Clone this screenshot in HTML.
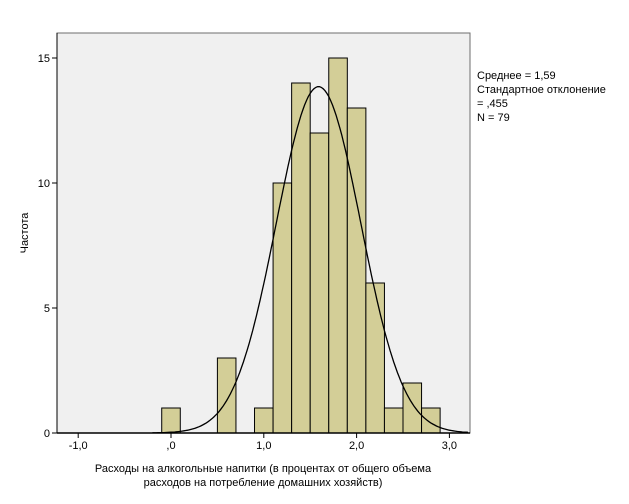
<!DOCTYPE html>
<html><head><meta charset="utf-8"><style>
body{margin:0;background:#fff;}
svg{display:block;font-family:"Liberation Sans",sans-serif;}
</style></head><body>
<svg width="629" height="504">
<rect x="57" y="33" width="413" height="400" fill="#f0f0f0" stroke="#6e6e6e" stroke-width="1"/>
<g id="bars"></g>
<path id="curve" fill="none" stroke="#000" stroke-width="1.3"/>
<line x1="57" y1="433" x2="470" y2="433" stroke="#000" stroke-width="1.5"/>
<line x1="57" y1="33" x2="57" y2="433" stroke="#000" stroke-width="1"/>
<g id="xt"></g>
<g id="yt"></g>
<text x="28" y="233" font-size="11" text-anchor="middle" transform="rotate(-90 28 233)">Частота</text>
<text x="263" y="472" font-size="11" text-anchor="middle">Расходы на алкогольные напитки (в процентах от общего объема</text>
<text x="263" y="486" font-size="11" text-anchor="middle">расходов на потребление домашних хозяйств)</text>
<g font-size="11">
<text x="477" y="79">Среднее = 1,59</text>
<text x="477" y="93">Стандартное отклонение</text>
<text x="477" y="107">= ,455</text>
<text x="477" y="121">N = 79</text>
</g>
</svg>
<script>
const binStarts=[-0.1,0.5,0.9,1.1,1.3,1.5,1.7,1.9,2.1,2.3,2.5,2.7];
const counts=[1,3,1,10,14,12,15,13,6,1,2,1];
const binWidth=0.2;
const mean=1.59, sd=0.455, n=79;
const xTicks=[-1,0,1,2,3];
const xTickLabels=["-1,0",",0","1,0","2,0","3,0"];
const yTicks=[0,5,10,15];
const NS="http://www.w3.org/2000/svg";
function X(v){return 171+v*92.8;}
function Y(v){return 433-v*25;}
const bars=document.getElementById('bars');
binStarts.forEach((b,i)=>{
 const r=document.createElementNS(NS,'rect');
 
 
 r.setAttribute('x',X(b));r.setAttribute('width',X(b+binWidth)-X(b));
 r.setAttribute('y',Y(counts[i]));r.setAttribute('height',Y(0)-Y(counts[i]));
 r.setAttribute('fill','#d3ce97');r.setAttribute('stroke','#000');r.setAttribute('stroke-width','1');
 bars.appendChild(r);
});
let d='';
for(let v=-0.2;v<=3.22;v+=0.02){
 const y=n*binWidth/(sd*Math.sqrt(2*Math.PI))*Math.exp(-0.5*((v-mean)/sd)**2);
 d+=(d?'L':'M')+X(v).toFixed(1)+','+Y(y).toFixed(1);
}
document.getElementById('curve').setAttribute('d',d);
const xt=document.getElementById('xt');
xTicks.forEach((t,i)=>{
 const l=document.createElementNS(NS,'line');
 
 
 l.setAttribute('x1',X(t));l.setAttribute('x2',X(t));l.setAttribute('y1',433);l.setAttribute('y2',438);l.setAttribute('stroke','#000');
 xt.appendChild(l);
 const tx=document.createElementNS(NS,'text');
 
 
 tx.setAttribute('x',X(t));tx.setAttribute('y',449);tx.setAttribute('font-size','11');tx.setAttribute('text-anchor','middle');
 tx.textContent=xTickLabels[i];xt.appendChild(tx);
});
const yt=document.getElementById('yt');
yTicks.forEach(t=>{
 const l=document.createElementNS(NS,'line');
 
 
 l.setAttribute('x1',52);l.setAttribute('x2',57);l.setAttribute('y1',Y(t));l.setAttribute('y2',Y(t));l.setAttribute('stroke','#000');
 yt.appendChild(l);
 const tx=document.createElementNS(NS,'text');
 
 
 tx.setAttribute('x',50);tx.setAttribute('y',Y(t)+4);tx.setAttribute('font-size','11');tx.setAttribute('text-anchor','end');
 tx.textContent=t;yt.appendChild(tx);
});
</script>
</body></html>
